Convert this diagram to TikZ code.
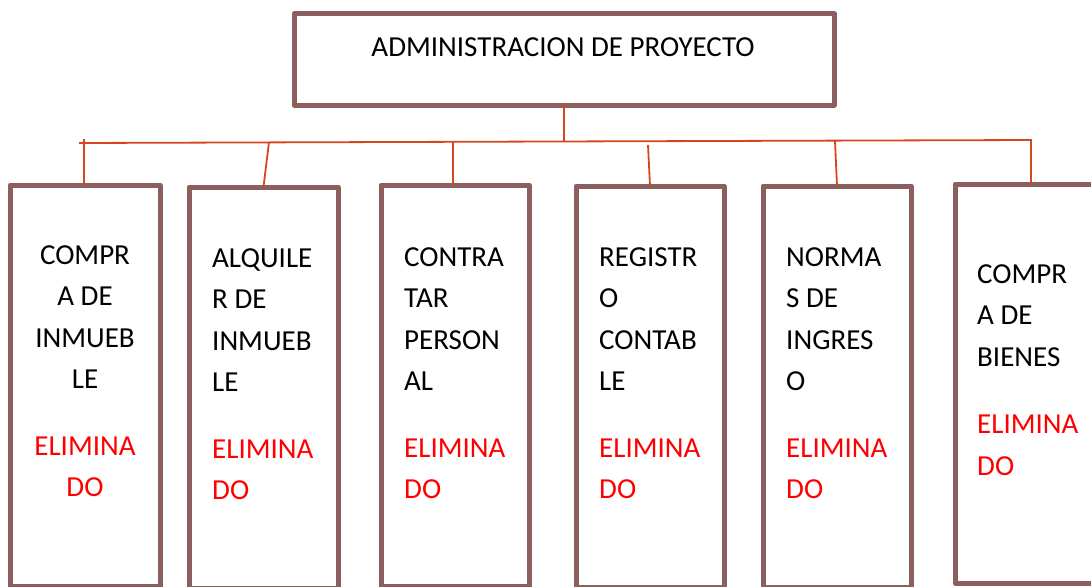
\documentclass[tikz,border=0pt]{standalone}
\usepackage{fontspec}
\setmainfont{Carlito}
\definecolor{boxbrown}{RGB}{140,95,95}
\definecolor{linkred}{RGB}{214,70,30}
\definecolor{gone}{RGB}{255,0,0}
\tikzset{
  taskbox/.style={draw=boxbrown, line width=5pt, line join=round, inner sep=0pt,
    outer sep=0pt, minimum width=#1, minimum height=401pt, anchor=north west},
  tasktext/.style={inner sep=0pt, align=left, anchor=north west,
    font=\fontsize{29}{41.5}\selectfont},
  link/.style={draw=linkred, line width=1.8pt}
}
\begin{document}
\begin{tikzpicture}[x=1pt,y=-1pt]
\useasboundingbox (0,0) rectangle (1091,586);

\def\yb{185};
\def\ybus{141};

% top box
\node[draw=boxbrown, line width=5pt, line join=round, inner sep=0pt, outer sep=0pt,
  minimum width=540pt, minimum height=91pt, anchor=north west] (top) at (294,14) {};
\node[tasktext, anchor=north] (title) at (563,37) {ADMINISTRACION DE PROYECTO};

% boxes
\node[taskbox=150pt] (b1) at (10,\yb) {};
\node[taskbox=149pt] (b2) at (189,187) {};
\node[taskbox=148pt] (b3) at (381,\yb) {};
\node[taskbox=148pt] (b4) at (576,186) {};
\node[taskbox=148pt] (b5) at (763,186) {};
\node[taskbox=150pt, minimum height=399pt] (b6) at (955,184) {};

\node[tasktext, align=center, anchor=north] (t1) at (85,245)
  {COMPR\\A DE\\INMUEB\\LE\\[25pt]\textcolor{gone}{ELIMINA}\\\textcolor{gone}{DO}};
\node[tasktext] (t2) at (212,248)
  {ALQUILE\\R DE\\INMUEB\\LE\\[25pt]\textcolor{gone}{ELIMINA}\\\textcolor{gone}{DO}};
\node[tasktext] (t3) at (404,247)
  {CONTRA\\TAR\\PERSON\\AL\\[25pt]\textcolor{gone}{ELIMINA}\\\textcolor{gone}{DO}};
\node[tasktext] (t4) at (599,247)
  {REGISTR\\O\\CONTAB\\LE\\[25pt]\textcolor{gone}{ELIMINA}\\\textcolor{gone}{DO}};
\node[tasktext] (t5) at (786,247)
  {NORMA\\S DE\\INGRES\\O\\[25pt]\textcolor{gone}{ELIMINA}\\\textcolor{gone}{DO}};
\node[tasktext] (t6) at (977,264)
  {COMPR\\A DE\\BIENES\\[26pt]\textcolor{gone}{ELIMINA}\\\textcolor{gone}{DO}};

% connectors
\coordinate (busL) at (79,143);
\coordinate (busR) at (1031,140);
\coordinate (j1) at (84,139);
\coordinate (j2) at (269,142);
\coordinate (j3) at (453,141);
\coordinate (j4) at (648,145);
\coordinate (j5) at (835,141);

\draw[link] (top.south) -- (top.south |- 0,\ybus);
\draw[link] (busL) -- (busR) -- (busR |- b6.north);
\draw[link] (j1) -- (j1 |- b1.north);
\draw[link] (j2) -- (b2.north);
\draw[link] (j3) -- (j3 |- b3.north);
\draw[link] (j4) -- (b4.north);
\draw[link] (j5) -- (b5.north);

\end{tikzpicture}
\end{document}
